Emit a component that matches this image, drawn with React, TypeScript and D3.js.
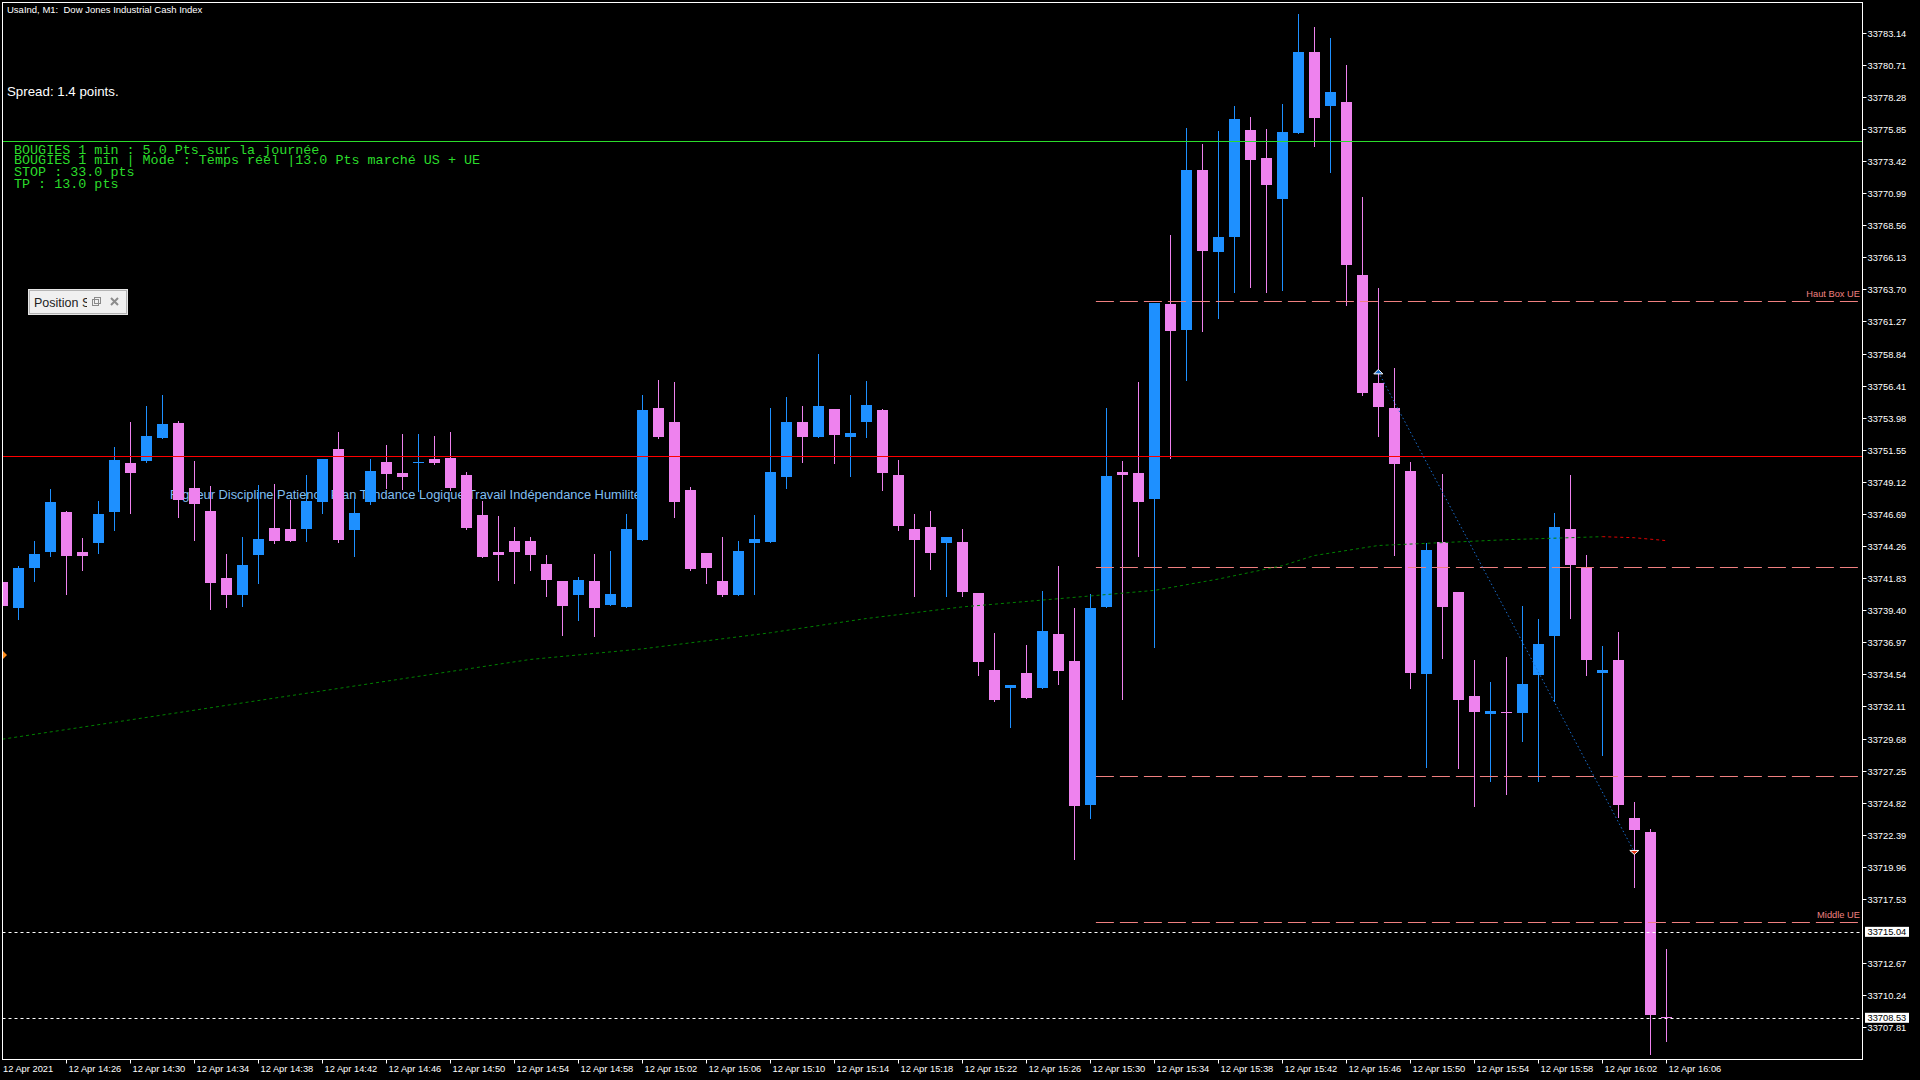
import React, { useEffect, useRef } from 'react';
import * as d3 from 'd3';

const W = 1920;
const H = 1080;

// 1-minute bars, 12 Apr 2021 14:22 -> 16:06 (105 bars)
const opens = [
  33741.54, 33739.59, 33742.62, 33743.83, 33746.84, 33743.81, 33744.52, 33746.86, 33750.55, 33750.73,
  33752.47, 33753.58, 33748.66, 33746.92, 33741.84, 33740.58, 33743.61, 33745.63, 33745.55, 33745.58,
  33747.62, 33751.61, 33745.50, 33747.62, 33750.63, 33749.80, 33750.57, 33750.86, 33750.93, 33749.64,
  33746.61, 33743.81, 33744.64, 33744.64, 33742.90, 33741.62, 33740.55, 33741.62, 33739.80, 33739.65,
  33744.72, 33754.72, 33753.66, 33748.51, 33743.74, 33741.62, 33740.55, 33744.49, 33744.57, 33749.49,
  33753.66, 33752.52, 33754.64, 33752.52, 33753.66, 33754.57, 33749.64, 33745.55, 33745.71, 33744.49,
  33744.57, 33740.71, 33734.87, 33733.51, 33734.65, 33733.51, 33737.60, 33735.56, 33724.65, 33739.65,
  33749.83, 33749.80, 33747.83, 33762.59, 33760.63, 33772.74, 33766.53, 33767.67, 33775.77, 33773.65,
  33770.55, 33775.55, 33781.68, 33777.59, 33777.89, 33764.79, 33756.61, 33754.72, 33749.95, 33734.57,
  33744.57, 33740.78, 33732.90, 33731.54, 33731.66, 33731.62, 33734.50, 33737.45, 33745.55, 33742.60,
  33734.61, 33735.63, 33723.66, 33722.61, 33708.60,
];
const highs = [
  33741.69, 33742.77, 33744.64, 33748.58, 33746.90, 33744.89, 33747.67, 33751.76, 33753.66, 33754.87,
  33755.70, 33753.73, 33750.70, 33748.81, 33743.66, 33744.95, 33748.89, 33748.96, 33747.75, 33749.64,
  33750.86, 33752.90, 33747.98, 33750.86, 33751.92, 33752.75, 33752.75, 33752.60, 33752.90, 33749.87,
  33747.67, 33746.54, 33745.71, 33744.95, 33743.58, 33741.62, 33741.92, 33743.66, 33743.89, 33746.69,
  33755.70, 33756.84, 33756.69, 33748.73, 33743.74, 33744.95, 33744.64, 33746.61, 33754.72, 33755.55,
  33754.87, 33758.81, 33754.64, 33755.70, 33756.76, 33754.64, 33750.78, 33746.69, 33746.92, 33744.95,
  33745.55, 33740.71, 33737.68, 33733.74, 33736.77, 33740.86, 33742.75, 33739.57, 33740.63, 33754.72,
  33750.70, 33756.69, 33762.67, 33767.82, 33775.93, 33774.71, 33775.70, 33777.59, 33776.76, 33775.85,
  33777.74, 33784.56, 33783.58, 33782.74, 33780.70, 33770.70, 33763.81, 33757.75, 33750.63, 33744.49,
  33749.72, 33740.78, 33735.63, 33733.97, 33735.86, 33739.72, 33738.74, 33746.77, 33749.64, 33743.58,
  33736.69, 33737.75, 33724.88, 33722.83, 33713.74,
];
const lows = [
  33739.42, 33738.74, 33741.62, 33743.51, 33740.65, 33742.47, 33743.76, 33745.50, 33746.79, 33750.65,
  33752.47, 33746.49, 33744.74, 33739.52, 33739.67, 33739.74, 33741.49, 33744.52, 33744.67, 33744.67,
  33746.79, 33744.59, 33743.53, 33747.47, 33748.68, 33748.61, 33748.45, 33750.48, 33748.53, 33745.58,
  33743.46, 33741.71, 33741.49, 33742.45, 33740.48, 33737.53, 33738.66, 33737.45, 33739.80, 33739.65,
  33744.72, 33752.45, 33746.46, 33742.45, 33741.46, 33740.48, 33740.55, 33740.63, 33744.57, 33748.66,
  33750.63, 33752.52, 33750.55, 33749.57, 33752.52, 33748.51, 33745.48, 33740.48, 33742.52, 33740.48,
  33740.48, 33734.50, 33732.53, 33730.56, 33732.75, 33733.51, 33733.81, 33720.56, 33723.66, 33739.65,
  33732.68, 33743.51, 33736.62, 33750.93, 33756.84, 33760.55, 33761.53, 33763.50, 33763.88, 33763.50,
  33763.66, 33775.55, 33774.56, 33772.59, 33762.52, 33755.70, 33752.60, 33743.58, 33733.51, 33727.53,
  33735.78, 33727.45, 33724.57, 33726.47, 33725.48, 33729.50, 33726.47, 33732.53, 33738.81, 33734.50,
  33728.44, 33723.74, 33718.44, 33705.79, 33706.77,
];
const closes = [
  33739.72, 33742.60, 33743.66, 33747.60, 33743.53, 33743.53, 33746.69, 33750.78, 33749.82, 33752.60,
  33753.51, 33747.77, 33747.47, 33741.49, 33740.58, 33742.83, 33744.80, 33744.67, 33744.67, 33747.67,
  33750.86, 33744.74, 33746.77, 33749.95, 33749.74, 33749.51, 33750.64, 33750.55, 33748.68, 33745.65,
  33743.46, 33743.61, 33743.83, 33743.58, 33741.69, 33739.72, 33741.69, 33739.57, 33740.63, 33745.55,
  33754.57, 33752.52, 33747.60, 33742.52, 33742.60, 33740.55, 33743.89, 33744.80, 33749.87, 33753.66,
  33752.52, 33754.87, 33752.67, 33752.82, 33754.95, 33749.80, 33745.78, 33744.72, 33743.74, 33744.95,
  33740.78, 33735.48, 33732.60, 33733.74, 33732.75, 33737.83, 33734.80, 33724.57, 33739.57, 33749.57,
  33749.64, 33747.60, 33762.67, 33760.55, 33772.74, 33766.61, 33767.67, 33776.61, 33773.50, 33771.61,
  33775.62, 33781.68, 33776.68, 33778.65, 33765.55, 33755.85, 33754.79, 33750.48, 33734.65, 33743.96,
  33739.65, 33732.60, 33731.69, 33731.77, 33731.62, 33733.81, 33736.84, 33745.71, 33742.83, 33735.63,
  33734.84, 33724.65, 33722.76, 33708.74, 33708.53,
];

// moving average (read at a few bars)
const maBars = [0, 33, 40, 48, 54, 60, 66, 72, 76, 80, 82, 86, 94, 100];
const maValues = [
  33729.63, 33735.67, 33736.47, 33737.69, 33738.77, 33739.65, 33740.27, 33740.90, 33741.76, 33742.77,
  33743.54, 33744.30, 33744.74, 33744.97,
];
const maDownBars = [100, 102, 104];
const maDownValues = [33744.97, 33744.89, 33744.67];

// horizontal lines
const redLevel = 33751.06;
const greenLevel = 33774.92;
const boxStartBar = 68.35;
const boxLevels = [33762.8, 33742.69, 33726.85, 33715.77];
const boxLabels = ['Haut Box UE', '', '', 'Middle UE'];
const priceLines = [33715.04, 33708.53];

// closed trade
const tradeBars = [86, 102];
const tradePrices = [33757.45, 33721.09];

const priceTicks = [
  33783.14, 33780.71, 33778.28, 33775.85, 33773.42, 33770.99, 33768.56, 33766.13, 33763.7, 33761.27,
  33758.84, 33756.41, 33753.98, 33751.55, 33749.12, 33746.69, 33744.26, 33741.83, 33739.4, 33736.97,
  33734.54, 33732.11, 33729.68, 33727.25, 33724.82, 33722.39, 33719.96, 33717.53, 33712.67, 33710.24,
  33707.81,
];
const timeLabels = [
  '12 Apr 2021', '12 Apr 14:26', '12 Apr 14:30', '12 Apr 14:34', '12 Apr 14:38', '12 Apr 14:42',
  '12 Apr 14:46', '12 Apr 14:50', '12 Apr 14:54', '12 Apr 14:58', '12 Apr 15:02', '12 Apr 15:06',
  '12 Apr 15:10', '12 Apr 15:14', '12 Apr 15:18', '12 Apr 15:22', '12 Apr 15:26', '12 Apr 15:30',
  '12 Apr 15:34', '12 Apr 15:38', '12 Apr 15:42', '12 Apr 15:46', '12 Apr 15:50', '12 Apr 15:54',
  '12 Apr 15:58', '12 Apr 16:02', '12 Apr 16:06',
];
const infoLines = [
  'BOUGIES 1 min : 5.0 Pts sur la journée',
  'BOUGIES 1 min | Mode : Temps réel |13.0 Pts marché US + UE',
  'STOP : 33.0 pts',
  'TP : 13.0 pts',
];
const mottoText = 'Rigueur Discipline Patience Plan Tendance Logique Travail Indépendance Humilité';

export default function App() {
  const svgRef = useRef<SVGSVGElement>(null);

  useEffect(() => {
    if (!svgRef.current) return;
    const svg = d3.select(svgRef.current);
    svg.selectAll('*').remove();

    const font = "'Liberation Sans', Arial, sans-serif";
    const mono = "'Liberation Mono', 'Courier New', monospace";
    const colors = { up: '#1E90FF', down: '#EE82EE', box: '#F08080', lime: '#2bdc2b' };
    const plot = { l: 2.5, t: 2.5, r: 1862.5, b: 1059.5 };

    const x = d3.scaleLinear().domain([0, 104]).range([2.3, 1666.3]);
    const y = d3.scaleLinear().domain([33707.81, 33783.14]).range([1027.3, 32.7]);
    const crisp = (v: number) => Math.round(v) + 0.5;

    svg.append('rect').attr('width', W).attr('height', H).attr('fill', '#000');

    const defs = svg.append('defs');
    defs.append('clipPath').attr('id', 'plotClip').append('rect')
      .attr('x', plot.l).attr('y', plot.t).attr('width', plot.r - plot.l).attr('height', plot.b - plot.t);
    defs.append('clipPath').attr('id', 'posClip').append('rect')
      .attr('x', 28).attr('y', 289).attr('width', 59).attr('height', 26);

    const g = svg.append('g').attr('clip-path', 'url(#plotClip)');

    // background motto text (behind the candles)
    g.append('text').attr('x', 170).attr('y', 499).attr('fill', '#80bff0')
      .style('font-family', font).style('font-size', '12.85px').text(mottoText);

    // candles
    const bars = d3.range(opens.length).map(i => ({ i, o: opens[i], h: highs[i], l: lows[i], c: closes[i] }));
    const candle = g.selectAll('g.candle').data(bars).enter().append('g').attr('class', 'candle');
    candle.append('line')
      .attr('x1', d => crisp(x(d.i))).attr('x2', d => crisp(x(d.i)))
      .attr('y1', d => Math.round(y(d.h))).attr('y2', d => Math.round(y(d.l)) + 1)
      .attr('stroke', d => (d.c >= d.o ? colors.up : colors.down)).attr('stroke-width', 1);
    candle.append('rect')
      .attr('x', d => Math.round(x(d.i)) - 5).attr('width', 11)
      .attr('y', d => Math.round(y(Math.max(d.o, d.c))))
      .attr('height', d => Math.max(1, Math.round(y(Math.min(d.o, d.c))) - Math.round(y(Math.max(d.o, d.c)))))
      .attr('fill', d => (d.c >= d.o ? colors.up : colors.down));

    // session box levels
    boxLevels.forEach((p, k) => {
      g.append('line').attr('x1', x(boxStartBar)).attr('x2', plot.r)
        .attr('y1', crisp(y(p))).attr('y2', crisp(y(p)))
        .attr('stroke', colors.box).attr('stroke-dasharray', '18,6');
      if (boxLabels[k]) {
        g.append('text').attr('x', 1860).attr('y', Math.round(y(p)) - 4).attr('text-anchor', 'end')
          .attr('fill', colors.box).style('font-family', font).style('font-size', '9.3px').text(boxLabels[k]);
      }
    });

    // solid levels
    g.append('line').attr('x1', plot.l).attr('x2', plot.r)
      .attr('y1', crisp(y(redLevel))).attr('y2', crisp(y(redLevel))).attr('stroke', '#ff0000');
    g.append('line').attr('x1', plot.l).attr('x2', plot.r)
      .attr('y1', crisp(y(greenLevel))).attr('y2', crisp(y(greenLevel))).attr('stroke', colors.lime);

    // bid / price lines
    priceLines.forEach(p => {
      g.append('line').attr('x1', plot.l).attr('x2', plot.r)
        .attr('y1', crisp(y(p))).attr('y2', crisp(y(p)))
        .attr('stroke', '#ffffff').attr('stroke-dasharray', '3,3');
    });

    // moving average
    const maLine = d3.line<number>().x((_, k) => x(maBars[k])).y(v => y(v));
    g.append('path').datum(maValues).attr('d', maLine).attr('fill', 'none')
      .attr('stroke', '#008000').attr('stroke-dasharray', '3,3');
    const maDownLine = d3.line<number>().x((_, k) => x(maDownBars[k])).y(v => y(v));
    g.append('path').datum(maDownValues).attr('d', maDownLine).attr('fill', 'none')
      .attr('stroke', '#e00000').attr('stroke-dasharray', '3,3');

    // trade line + arrows
    g.append('line')
      .attr('x1', x(tradeBars[0])).attr('y1', y(tradePrices[0]))
      .attr('x2', x(tradeBars[1])).attr('y2', y(tradePrices[1]))
      .attr('stroke', '#1a6fd1').attr('stroke-dasharray', '1.5,2.5');
    g.append('path').attr('transform', `translate(${x(tradeBars[0])},${y(tradePrices[0])})`)
      .attr('d', 'M-4.5,2 L0,-2.5 L4.5,2 Z').attr('fill', '#1a6fd1').attr('stroke', '#fff');
    g.append('path').attr('transform', `translate(${x(tradeBars[1])},${y(tradePrices[1])})`)
      .attr('d', 'M-4.5,-1.5 L4.5,-1.5 L0,2.5 Z').attr('fill', '#e03010').attr('stroke', '#fff');

    // small marker on the left edge
    g.append('path').attr('d', 'M3,651 L7,655 L3,659 Z').attr('fill', '#ff8c1a');

    // info texts
    svg.append('text').attr('x', 7).attr('y', 12.5).attr('fill', '#fff').attr('xml:space', 'preserve')
      .style('font-family', font).style('font-size', '9.5px').text('UsaInd, M1:  Dow Jones Industrial Cash Index');
    svg.append('text').attr('x', 7).attr('y', 96).attr('fill', '#fff')
      .style('font-family', font).style('font-size', '13.3px').text('Spread: 1.4 points.');
    const infoY = [154, 164, 176, 188];
    infoLines.forEach((t, k) => {
      svg.append('text').attr('x', 14).attr('y', infoY[k]).attr('fill', colors.lime)
        .style('font-family', mono).style('font-size', '13.4px').text(t);
    });

    // position panel
    svg.append('rect').attr('x', 28.5).attr('y', 289.5).attr('width', 99).attr('height', 25)
      .attr('fill', '#f0f0f0').attr('stroke', '#e6e6e6');
    svg.append('rect').attr('x', 29.5).attr('y', 290.5).attr('width', 97).attr('height', 23)
      .attr('fill', 'none').attr('stroke', '#b4b4b4');
    svg.append('text').attr('x', 34).attr('y', 307).attr('fill', '#222').attr('clip-path', 'url(#posClip)')
      .style('font-family', font).style('font-size', '12.5px').text('Position Size');
    svg.append('rect').attr('x', 92.5).attr('y', 299.5).attr('width', 6).attr('height', 6)
      .attr('fill', 'none').attr('stroke', '#8a8a8a');
    svg.append('rect').attr('x', 94.5).attr('y', 297.5).attr('width', 6).attr('height', 6)
      .attr('fill', 'none').attr('stroke', '#8a8a8a');
    svg.append('path').attr('d', 'M111,298 L118,305 M118,298 L111,305')
      .attr('stroke', '#8c8c8c').attr('stroke-width', 2);

    // frame
    svg.append('rect').attr('x', plot.l).attr('y', plot.t)
      .attr('width', plot.r - plot.l).attr('height', plot.b - plot.t)
      .attr('fill', 'none').attr('stroke', '#fff');

    // price axis
    const pa = svg.append('g');
    priceTicks.forEach(p => {
      const yy = crisp(y(p));
      pa.append('line').attr('x1', plot.r).attr('x2', plot.r + 4).attr('y1', yy).attr('y2', yy).attr('stroke', '#fff');
      pa.append('text').attr('x', 1867.5).attr('y', yy).attr('dy', '0.35em').attr('fill', '#fff')
        .style('font-family', font).style('font-size', '9.3px').text(p.toFixed(2));
    });
    priceLines.forEach(p => {
      const yy = y(p);
      pa.append('rect').attr('x', 1865).attr('y', yy - 5).attr('width', 44).attr('height', 10).attr('fill', '#fff');
      pa.append('text').attr('x', 1867.5).attr('y', yy).attr('dy', '0.35em').attr('fill', '#000')
        .style('font-family', font).style('font-size', '9.3px').text(p.toFixed(2));
    });

    // time axis
    const ta = svg.append('g');
    timeLabels.forEach((t, k) => {
      const xx = crisp(x(k * 4));
      if (k > 0) {
        ta.append('line').attr('x1', xx).attr('x2', xx).attr('y1', plot.b).attr('y2', plot.b + 4).attr('stroke', '#fff');
      }
      ta.append('text').attr('x', k > 0 ? xx + 2 : 3).attr('y', 1071.5).attr('fill', '#fff')
        .style('font-family', font).style('font-size', '9.3px').text(t);
    });
  }, []);

  return (
    <svg
      ref={svgRef}
      width={W}
      height={H}
      viewBox={`0 0 ${W} ${H}`}
      style={{ position: 'absolute', left: 0, top: 0, display: 'block', background: '#000' }}
    />
  );
}
